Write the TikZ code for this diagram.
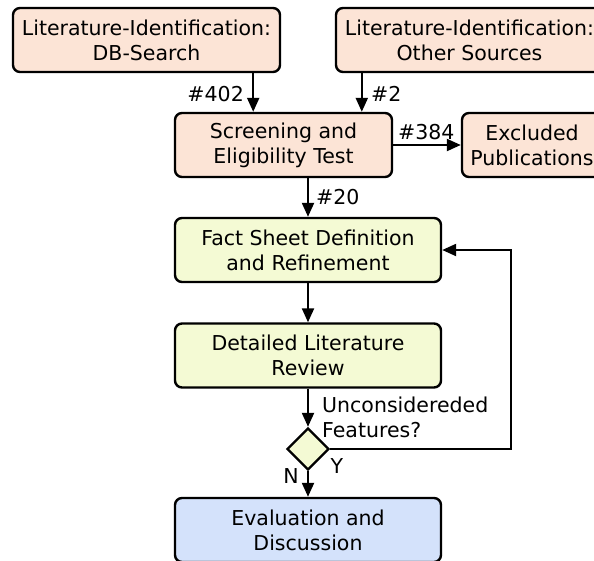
\documentclass[tikz,border=0pt]{standalone}
\usepackage{fontspec}
\setmainfont{DejaVu Sans}
\definecolor{boxpeach}{RGB}{252,228,214}
\definecolor{boxgreen}{RGB}{244,250,212}
\definecolor{boxblue}{RGB}{212,226,251}
\usetikzlibrary{arrows.meta,positioning,shapes.geometric,calc}

\begin{document}
\begin{tikzpicture}[x=1pt,y=-1pt,
    flowbox/.style={draw,line width=2.4pt,rounded corners=7pt,align=center,
      minimum height=64pt,inner sep=0pt,font=\fontsize{20.5}{25}\selectfont},
    flowarrow/.style={-{Triangle[length=14pt,width=12pt]},line width=2.2pt},
    countlbl/.style={inner sep=0pt,font=\fontsize{20.5}{25}\selectfont}]
  \useasboundingbox (0,0) rectangle (594,560);
  % literature search
  \node[flowbox,fill=boxpeach,minimum width=267pt] (litdb) at (146.5,40)
        {Literature-Identification:\\DB-Search};
  \node[flowbox,fill=boxpeach,minimum width=267pt] (litother) at (469.5,40)
        {Literature-Identification:\\Other Sources};
  \node[flowbox,fill=boxpeach,minimum width=217pt] (screen) at (283.5,145)
        {Screening and\\Eligibility Test};
  \node[flowbox,fill=boxpeach,minimum width=140pt] (excluded) at (532,145)
        {Excluded\\Publications};
  % review loop
  \node[flowbox,fill=boxgreen,minimum width=266pt] (factsheet) at (308,250)
        {Fact Sheet Definition\\and Refinement};
  \node[flowbox,fill=boxgreen,minimum width=266pt] (review) at (308,355.5)
        {Detailed Literature\\Review};
  \node[draw,diamond,fill=boxgreen,line width=2.4pt,inner sep=0pt,
        minimum width=42pt,minimum height=42pt] (decide) at (308,449) {};
  \node[flowbox,fill=boxblue,minimum width=266pt] (evaluation) at (308,530)
        {Evaluation and\\Discussion};

  \coordinate (dbin) at ([xshift=-28pt]litdb.south east);
  \coordinate (otherin) at ([xshift=27pt]litother.south west);
  \coordinate (loopright) at (511,449);

  \draw[flowarrow] (dbin) -- (dbin |- screen.north);
  \draw[flowarrow] (otherin) -- (otherin |- screen.north);
  \draw[flowarrow] (screen.east) -- (excluded.west);
  \draw[flowarrow] (screen.south -| factsheet.north) -- (factsheet.north);
  \draw[flowarrow] (factsheet) -- (review);
  \draw[flowarrow] (review) -- (decide);
  \draw[flowarrow] (decide) -- (evaluation);
  \draw[flowarrow] (decide.east) -- (loopright) |- (factsheet.east);

  \node[countlbl,anchor=east] (c402) at (244,94) {\#402};
  \node[countlbl,anchor=west] (c2) at (371,94) {\#2};
  \node[countlbl,anchor=west] (c384) at (398,132) {\#384};
  \node[countlbl,anchor=west] (c20) at (316,197) {\#20};
  \node[countlbl,anchor=west,align=left] (question) at (322,417)
        {Unconsidereded\\Features?};
  \node[countlbl] (yes) at (337,466) {Y};
  \node[countlbl] (no) at (291,476) {N};
\end{tikzpicture}
\end{document}
